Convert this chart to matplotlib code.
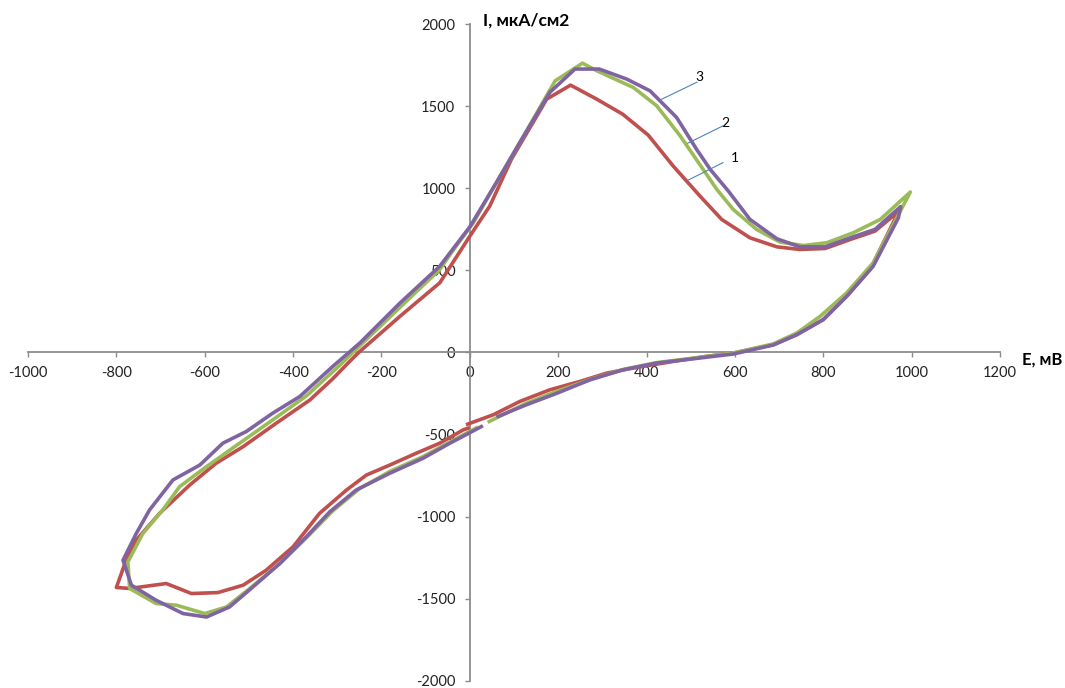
import matplotlib
matplotlib.use("Agg")
import matplotlib.pyplot as plt

plt.rcParams['font.family'] = ['Lato', 'Noto Sans', 'DejaVu Sans']
plt.rcParams['axes.unicode_minus'] = False

# кривая 1 (красная)
e1 = [-5, 53, 113, 181, 249, 310, 370, 460, 536, 596, 687, 740, 800, 853, 906, 971,
      917, 861, 804, 747, 695, 634, 570, 521, 460, 404, 346, 287, 228, 174, 94, 45, 0,
      -68, -158, -249, -272, -310, -362, -438, -513, -574, -634, -702, -755, -778, -800,
      -770, -687, -630, -570, -513, -461, -400, -340, -279, -234, -181, -121, -68, -15, -4]
i1 = [-437, -380, -299, -228, -177, -126, -95, -55, -24, -4, 47, 108, 200, 342, 505, 860,
      739, 688, 633, 627, 643, 698, 810, 952, 1136, 1323, 1451, 1543, 1628, 1543, 1176, 891, 708,
      424, 220, 6, -55, -160, -290, -431, -574, -675, -808, -980, -1143, -1266, -1432,
      -1438, -1408, -1469, -1463, -1418, -1327, -1184, -980, -838, -747, -686, -614, -553, -472, -462]

# кривая 2 (зелёная)
e2 = [44, 64, 128, 196, 272, 347, 423, 521, 596, 687, 740, 793, 853, 913, 997,
      929, 868, 808, 755, 702, 649, 596, 559, 528, 476, 423, 370, 287, 255, 193, 113, 60, 8,
      -41, -68, -158, -249, -295, -370, -446, -521, -596, -657, -695, -740, -774, -770,
      -710, -664, -600, -551, -498, -430, -370, -310, -250, -181, -106, -45, 15]
i2 = [-421, -394, -309, -238, -165, -104, -62, -30, -4, 52, 118, 220, 363, 546, 977,
      810, 729, 668, 651, 672, 749, 871, 993, 1115, 1319, 1502, 1614, 1716, 1762, 1654, 1278, 1034, 790,
      610, 505, 275, 40, -80, -265, -411, -553, -696, -818, -960, -1103, -1276, -1438,
      -1530, -1540, -1591, -1551, -1438, -1286, -1130, -965, -830, -725, -635, -545, -460]

# кривая 3 (фиолетовая)
e3 = [64, 128, 196, 272, 347, 423, 521, 596, 687, 740, 800, 853, 913, 970, 975,
      917, 861, 804, 747, 695, 634, 585, 544, 513, 468, 408, 355, 293, 238, 181, 113, 60, 0,
      -68, -158, -249, -310, -385, -446, -506, -559, -611, -672, -725, -755, -785, -766,
      -710, -649, -596, -544, -491, -430, -370, -317, -257, -181, -106, -45, 26]
i3 = [-390, -319, -250, -167, -106, -65, -34, -10, 45, 108, 200, 342, 525, 820, 888,
      749, 698, 643, 643, 692, 810, 983, 1115, 1238, 1431, 1593, 1665, 1726, 1726, 1584, 1278, 1034, 765,
      525, 301, 57, -85, -269, -370, -482, -553, -686, -777, -960, -1103, -1266, -1418,
      -1510, -1591, -1612, -1551, -1429, -1286, -1123, -971, -838, -736, -645, -553, -452]

x_ticks = [-1000, -800, -600, -400, -200, 0, 200, 400, 600, 800, 1000, 1200]
y_ticks = [-2000, -1500, -1000, -500, 0, 500, 1000, 1500, 2000]

fig = plt.figure(figsize=(10.65, 6.88), dpi=100)
ax = fig.add_axes([0.0263, 0.0106, 0.9127, 0.9544])

ax.plot(e1, i1, color='#C0504D', lw=2.6, solid_joinstyle='round', zorder=3)
ax.plot(e2, i2, color='#9BBB59', lw=2.6, solid_joinstyle='round', zorder=4)
ax.plot(e3, i3, color='#8064A2', lw=2.6, solid_joinstyle='round', zorder=5)

ax.set_xlim(-1000, 1200)
ax.set_ylim(-2000, 2000)
ax.set_xticks(x_ticks)
ax.set_yticks(y_ticks)

for s in ['top', 'right']:
    ax.spines[s].set_visible(False)
ax.spines['left'].set_position(('data', 0))
ax.spines['bottom'].set_position(('data', 0))
for s in ['left', 'bottom']:
    ax.spines[s].set_color('#8C8C8C')
    ax.spines[s].set_linewidth(1.3)
ax.tick_params(axis='both', direction='out', length=3.5, width=1, color='#8C8C8C',
               labelsize=10.5, labelcolor='#222222')
ax.tick_params(axis='x', pad=6)
ax.tick_params(axis='y', pad=7)

# подписи кривых с выносками
leader = '#4F81BD'
ax.plot([514, 434], [1646, 1542], color=leader, lw=0.8, zorder=6)
ax.plot([573, 493], [1380, 1274], color=leader, lw=0.8, zorder=6)
ax.plot([573, 493], [1156, 1048], color=leader, lw=0.8, zorder=6)
ax.text(519, 1679, '3', fontsize=10, ha='center', va='center')
ax.text(578, 1400, '2', fontsize=10, ha='center', va='center')
ax.text(600, 1187, '1', fontsize=10, ha='center', va='center')

ax.text(29, 2019, 'I, мкА/см2', fontsize=12.5, fontweight='bold', ha='left', va='center',
        clip_on=False)
ax.text(1250, -45, 'E, мВ', fontsize=12, fontweight='bold', ha='left', va='center',
        clip_on=False)

fig.savefig('out.png', dpi=100)
